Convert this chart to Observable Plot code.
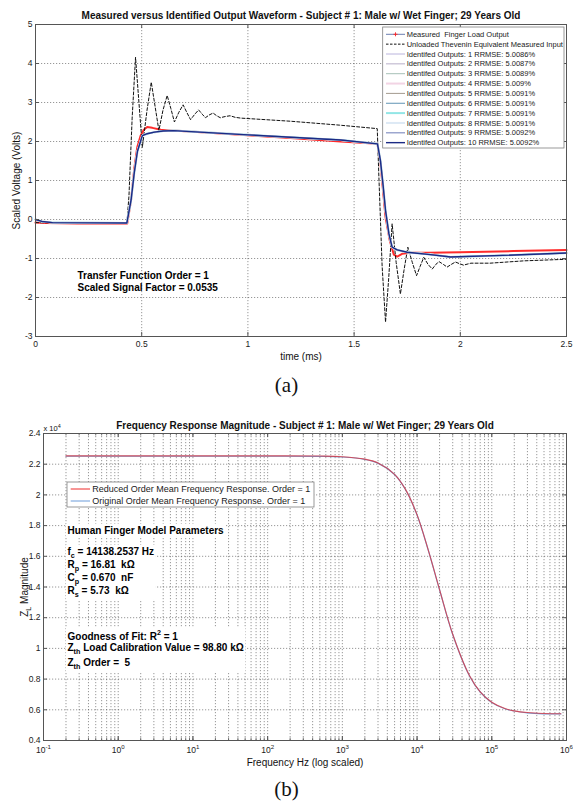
<!DOCTYPE html>
<html>
<head>
<meta charset="utf-8">
<script src="https://cdn.jsdelivr.net/npm/d3@7"></script>
<script src="https://cdn.jsdelivr.net/npm/@observablehq/plot@0.6"></script>
<style>
  body { margin: 0; background: white; }
  #wrap { position: relative; width: 573px; height: 804px; background: white; overflow: hidden; }
  .panel { position: absolute; left: 0; }
  .cap { position: absolute; left: 0; width: 573px; text-align: center; font-family: 'Liberation Serif', 'Times New Roman', serif; font-size: 21px; line-height: 24px; color: #111; }
</style>
</head>
<body>
<div id="wrap">
  <div id="pa" class="panel" style="top:0px"></div>
  <div class="cap" style="top:373px">(a)</div>
  <div id="pb" class="panel" style="top:405px"></div>
  <div class="cap" style="top:777px">(b)</div>
</div>
<script>
// ---------------- DATA: panel (a) ----------------
const topTitle = "Measured versus Identified Output Waveform - Subject # 1: Male w/ Wet Finger; 29 Years Old";
const timeTicks = [0, 0.5, 1, 1.5, 2, 2.5];
const timeTickLabels = ["0", "0.5", "1", "1.5", "2", "2.5"];
const voltTicks = [-3, -2, -1, 0, 1, 2, 3, 4, 5];
const voltTickLabels = ["-3", "-2", "-1", "0", "1", "2", "3", "4", "5"];

// Measured finger load output (red)
const measuredT = [0, 0.05, 0.2, 0.432, 0.45, 0.465, 0.479, 0.495, 0.51, 0.526, 0.55, 0.59, 0.8, 1.0, 1.2, 1.436, 1.61, 1.624, 1.636, 1.648, 1.668, 1.687, 1.703, 1.726, 1.765, 1.85, 2.0, 2.25, 2.5];
const measuredV = [-0.08, -0.09, -0.1, -0.1, 0.5, 1.3, 1.85, 2.15, 2.3, 2.37, 2.35, 2.3, 2.23, 2.16, 2.09, 2.0, 1.94, 1.45, 0.75, 0.06, -0.54, -0.9, -0.95, -0.88, -0.85, -0.85, -0.84, -0.81, -0.78];

// Unloaded Thevenin equivalent measured input (black dashed)
const theveninT = [0, 0.43, 0.44, 0.455, 0.471, 0.487, 0.503, 0.525, 0.545, 0.563, 0.581, 0.6, 0.62, 0.637, 0.654, 0.675, 0.695, 0.712, 0.73, 0.75, 0.768, 0.785, 0.8, 0.818, 0.836, 0.853, 0.87, 0.893, 0.916, 0.94, 0.966, 1.2, 1.43, 1.609, 1.616, 1.632, 1.648, 1.663, 1.679, 1.698, 1.718, 1.735, 1.753, 1.774, 1.794, 1.811, 1.828, 1.848, 1.868, 1.885, 1.9, 1.92, 1.938, 1.958, 1.977, 1.995, 2.015, 2.05, 2.14, 2.3, 2.5];
const theveninV = [-0.08, -0.1, 0.6, 2.6, 4.16, 3.0, 1.85, 2.8, 3.52, 2.9, 2.28, 2.8, 3.18, 2.85, 2.5, 2.75, 2.94, 2.75, 2.56, 2.7, 2.81, 2.7, 2.61, 2.68, 2.73, 2.66, 2.61, 2.64, 2.66, 2.62, 2.6, 2.52, 2.42, 2.33, 1.2, -1.2, -2.63, -1.5, -0.11, -1.1, -1.91, -1.3, -0.71, -1.1, -1.44, -1.2, -0.97, -1.15, -1.27, -1.15, -1.08, -1.15, -1.22, -1.15, -1.09, -1.13, -1.17, -1.12, -1.12, -1.06, -1.02];

// Identified outputs (all ten overlap almost exactly)
const identifiedT = [0, 0.03, 0.08, 0.43, 0.45, 0.465, 0.48, 0.503, 0.526, 0.56, 0.6, 0.65, 1.0, 1.436, 1.61, 1.624, 1.636, 1.648, 1.664, 1.679, 1.703, 1.75, 1.86, 1.954, 2.2, 2.5];
const identifiedV = [0.0, -0.05, -0.08, -0.09, 0.5, 1.2, 1.75, 2.15, 2.2, 2.24, 2.27, 2.28, 2.17, 2.04, 1.94, 1.51, 0.9, 0.23, -0.37, -0.71, -0.78, -0.84, -0.9, -0.96, -0.92, -0.86];
const identifiedRRMSE = [5.0086, 5.0087, 5.0089, 5.009, 5.0091, 5.0091, 5.0091, 5.0091, 5.0092, 5.0092];
const identifiedColors = ["#bab4dd", "#b8aec9", "#a7c0b7", "#f2d4e4", "#a49b8e", "#6094b4", "#92e6e6", "#dde9f5", "#8592c4", "#1c2b85"];
const identifiedWidths = [1, 1, 1, 2, 1, 1, 2, 2, 1.2, 1.4];
const topNotes = ["Transfer Function Order = 1", "Scaled Signal Factor = 0.0535"];

// ---------------- DATA: panel (b) ----------------
const botTitle = "Frequency Response Magnitude - Subject # 1: Male w/ Wet Finger; 29 Years Old";
const freqHz =    [0.2, 1, 10, 100, 500, 1000, 2000, 3000, 5000, 7000, 10000, 14000, 20000, 30000, 50000, 70000, 100000, 150000, 200000, 300000, 500000, 840000];
const reducedZ =  [2.254, 2.254, 2.254, 2.254, 2.253, 2.249, 2.233, 2.208, 2.134, 2.036, 1.870, 1.647, 1.383, 1.092, 0.825, 0.717, 0.649, 0.608, 0.593, 0.582, 0.576, 0.574];
const originalZ = [2.252, 2.252, 2.252, 2.252, 2.251, 2.247, 2.232, 2.207, 2.133, 2.035, 1.869, 1.646, 1.382, 1.091, 0.824, 0.716, 0.648, 0.607, 0.592, 0.580, 0.574, 0.573];
const decadeTicks = [0.1, 1, 10, 100, 1000, 10000, 100000, 1000000];
const decadeLabels = ["10^{-1}", "10^{0}", "10^{1}", "10^{2}", "10^{3}", "10^{4}", "10^{5}", "10^{6}"];
const zTicks = [0.4, 0.6, 0.8, 1.0, 1.2, 1.4, 1.6, 1.8, 2.0, 2.2, 2.4];
const zTickLabels = ["0.4", "0.6", "0.8", "1", "1.2", "1.4", "1.6", "1.8", "2", "2.2", "2.4"];
const botLegend = ["Reduced Order Mean Frequency Response. Order = 1", "Original Order Mean Frequency Response. Order = 1"];
const paramHeader = "Human Finger Model Parameters";
const paramLines = ["f_{c} = 14138.2537 Hz", "R_{p} = 16.81  k\u03A9", "C_{p} = 0.670  nF", "R_{s} = 5.73  k\u03A9"];
const fitLines = ["Goodness of Fit: R^{2} = 1", "Z_{th} Load Calibration Value = 98.80 k\u03A9", "Z_{th} Order =  5"];

// ---------------- helpers ----------------
const FONT = "'Liberation Sans', Arial, Helvetica, sans-serif";
const GRID = {stroke: "#3a3a3a", strokeOpacity: 0.75, strokeWidth: 0.7, strokeDasharray: "1.2,1.8"};
const AX = "#555";
const zip = (T, V) => T.map((t, i) => ({t, v: V[i]}));
const measured = zip(measuredT, measuredV);
const thevenin = zip(theveninT, theveninV);
const identified = zip(identifiedT, identifiedV);
const freqTable = freqHz.map((f, i) => ({f, red: reducedZ[i], blue: originalZ[i]}));
const minorFreq = [];
for (let k = -1; k <= 5; k++) for (let m = 1; m <= 9; m++) minorFreq.push(m * Math.pow(10, k));
minorFreq.push(1e6);

// ---------------- panel (a) ----------------
const A = {w: 573, h: 365, ml: 35, mr: 7, mt: 24, mb: 29};
const AW = A.w - A.ml - A.mr, AH = A.h - A.mt - A.mb;
const plotA = Plot.plot({
  width: A.w, height: A.h, marginLeft: A.ml, marginRight: A.mr, marginTop: A.mt, marginBottom: A.mb,
  style: {fontFamily: FONT, fontSize: "8.5px", color: "#1a1a1a", background: "white"},
  x: {domain: [0, 2.5]},
  y: {domain: [-3, 5]},
  marks: [
    Plot.ruleX(timeTicks.slice(1, -1), {x: d => d, ...GRID}),
    Plot.ruleY(voltTicks.slice(1, -1), {y: d => d, ...GRID}),
    Plot.line(measured, {x: "t", y: "v", stroke: "#ff2b2b", strokeWidth: 2}),
    Plot.line(thevenin, {x: "t", y: "v", stroke: "#111", strokeWidth: 1, strokeDasharray: "3,2"}),
    ...identifiedColors.map((c, i) => Plot.line(identified, {x: "t", y: "v", stroke: c, strokeWidth: identifiedWidths[i]})),
    Plot.frame({stroke: AX}),
    Plot.tickX(timeTicks, {x: d => d, insetTop: AH - 4, stroke: AX}),
    Plot.tickX(timeTicks, {x: d => d, insetBottom: AH - 4, stroke: AX}),
    Plot.tickY(voltTicks, {y: d => d, insetRight: AW - 4, stroke: AX}),
    Plot.tickY(voltTicks, {y: d => d, insetLeft: AW - 4, stroke: AX}),
    Plot.axisX({ticks: timeTicks, tickFormat: d => timeTickLabels[timeTicks.indexOf(d)], tickSize: 0, tickPadding: 4, label: null, fontSize: 8.5}),
    Plot.axisY({ticks: voltTicks, tickFormat: d => voltTickLabels[voltTicks.indexOf(d)], tickSize: 0, tickPadding: 3, label: null, fontSize: 8.5}),
    Plot.text([topTitle], {text: d => d, frameAnchor: "top", lineAnchor: "top", dy: -13, fontSize: 10, fontWeight: "bold", fill: "#111"}),
    Plot.text(["time (ms)"], {text: d => d, frameAnchor: "bottom", lineAnchor: "top", dy: 16, fontSize: 10, fill: "#111"}),
    Plot.text(["Scaled Voltage (Volts)"], {text: d => d, frameAnchor: "left", rotate: -90, textAnchor: "middle", lineAnchor: "top", dx: -23, fontSize: 10, fill: "#111"}),
    ...topNotes.map((s, i) => Plot.text([s], {text: d => d, frameAnchor: "top-left", textAnchor: "start", lineAnchor: "top", dx: 42, dy: 247 + i * 12.6, fontSize: 10, fontWeight: "bold", fill: "#000"}))
  ]
});
document.getElementById("pa").appendChild(plotA);

// ---------------- panel (b) ----------------
const B = {w: 573, h: 365, ml: 43, mr: 7, mt: 28, mb: 30};
const BW = B.w - B.ml - B.mr, BH = B.h - B.mt - B.mb;
const noteLine = (s, dy, code) => Plot.text([s], {text: d => d, frameAnchor: "top-left", textAnchor: "start", lineAnchor: "top", dx: 24, dy, fontSize: 10, fontWeight: "bold", fill: code});
const plotB = Plot.plot({
  width: B.w, height: B.h, marginLeft: B.ml, marginRight: B.mr, marginTop: B.mt, marginBottom: B.mb,
  style: {fontFamily: FONT, fontSize: "8.5px", color: "#1a1a1a", background: "white"},
  x: {type: "log", domain: [0.1, 1e6]},
  y: {domain: [0.4, 2.4]},
  marks: [
    Plot.ruleX(minorFreq.filter(f => f > 0.1 && f < 1e6), {x: d => d, ...GRID}),
    Plot.ruleY(zTicks.slice(1, -1), {y: d => d, ...GRID}),
    Plot.line(freqTable, {x: "f", y: "blue", stroke: "#6b9bd9", strokeWidth: 1.2, curve: "catmull-rom"}),
    Plot.line(freqTable, {x: "f", y: "red", stroke: "#ee2a2a", strokeWidth: 1.1, strokeOpacity: 0.7, curve: "catmull-rom"}),
    Plot.frame({stroke: AX}),
    Plot.tickX(decadeTicks, {x: d => d, insetTop: BH - 4, stroke: AX}),
    Plot.tickX(decadeTicks, {x: d => d, insetBottom: BH - 4, stroke: AX}),
    Plot.tickX(minorFreq, {x: d => d, insetTop: BH - 2.5, stroke: AX, strokeWidth: 0.8}),
    Plot.tickX(minorFreq, {x: d => d, insetBottom: BH - 2.5, stroke: AX, strokeWidth: 0.8}),
    Plot.tickY(zTicks, {y: d => d, insetRight: BW - 4, stroke: AX}),
    Plot.tickY(zTicks, {y: d => d, insetLeft: BW - 4, stroke: AX}),
    Plot.axisX({ticks: decadeTicks, tickFormat: d => decadeLabels[decadeTicks.indexOf(d)], tickSize: 0, tickPadding: 6, label: null, fontSize: 8.5}),
    Plot.axisY({ticks: zTicks, tickFormat: d => zTickLabels[zTicks.indexOf(d)], tickSize: 0, tickPadding: 3, label: null, fontSize: 8.5}),
    Plot.text(["x 10^{4}"], {text: d => d, frameAnchor: "top-left", textAnchor: "start", lineAnchor: "top", dx: 0, dy: -8, fontSize: 7.5, fill: "#111"}),
    Plot.text([botTitle], {text: d => d, frameAnchor: "top", lineAnchor: "top", dy: -12, fontSize: 10, fontWeight: "bold", fill: "#111"}),
    Plot.text(["Frequency Hz (log scaled)"], {text: d => d, frameAnchor: "bottom", lineAnchor: "top", dy: 18, fontSize: 10, fill: "#111"}),
    Plot.text(["Z_{L} Magnitude"], {text: d => d, frameAnchor: "left", rotate: -90, textAnchor: "middle", lineAnchor: "top", dx: -23, fontSize: 10, fill: "#111"}),
    noteLine(paramHeader, 93, "#000001"),
    ...paramLines.map((s, i) => noteLine(s, [114, 127, 140, 153][i], "#000002")),
    ...fitLines.map((s, i) => noteLine(s, [199, 210, 225][i], "#000003"))
  ]
});
document.getElementById("pb").appendChild(plotB);

// ---------------- rich text (sub/superscripts) ----------------
const NS = "http://www.w3.org/2000/svg";
function richText(svg) {
  svg.querySelectorAll("text").forEach(t => {
    const targets = t.querySelector("tspan") ? [...t.querySelectorAll("tspan")] : [t];
    targets.forEach(el => {
      const s = el.textContent;
      if (!/[_^]\{/.test(s)) return;
      const fs = parseFloat(getComputedStyle(el).fontSize) || 10;
      while (el.firstChild) el.removeChild(el.firstChild);
      let shift = 0;
      const add = (str, type) => {
        const ts = document.createElementNS(NS, "tspan");
        const target = type === "_" ? 0.33 * fs : type === "^" ? -0.42 * fs : 0;
        const dy = target - shift;
        if (dy) ts.setAttribute("dy", dy.toFixed(2));
        shift = target;
        if (type) ts.setAttribute("font-size", (0.72 * fs).toFixed(2));
        ts.textContent = str;
        el.appendChild(ts);
      };
      const re = /([_^])\{([^}]*)\}/g;
      let last = 0, m;
      while ((m = re.exec(s))) {
        if (m.index > last) add(s.slice(last, m.index), null);
        add(m[2], m[1]);
        last = re.lastIndex;
      }
      if (last < s.length) add(s.slice(last), null);
    });
  });
}
richText(plotA);
richText(plotB);

// white background boxes behind text blocks (like MATLAB text objects)
function textBoxes(svg, codes) {
  const sr = svg.getBoundingClientRect();
  codes.forEach(code => {
    const groups = [...svg.querySelectorAll(`g[fill="${code}"]`)];
    if (!groups.length) return;
    let x0 = Infinity, y0 = Infinity, x1 = -Infinity, y1 = -Infinity;
    groups.forEach(g => g.querySelectorAll("text").forEach(t => {
      const r = t.getBoundingClientRect();
      x0 = Math.min(x0, r.left - sr.left); y0 = Math.min(y0, r.top - sr.top);
      x1 = Math.max(x1, r.right - sr.left); y1 = Math.max(y1, r.bottom - sr.top);
    }));
    const rect = document.createElementNS(NS, "rect");
    rect.setAttribute("x", x0 - 1.5); rect.setAttribute("y", y0 - 1);
    rect.setAttribute("width", x1 - x0 + 3); rect.setAttribute("height", y1 - y0 + 2);
    rect.setAttribute("fill", "white");
    groups[0].parentNode.insertBefore(rect, groups[0]);
  });
}
textBoxes(plotB, ["#000001", "#000002", "#000003"]);

// ---------------- legends ----------------
function legend(svg, cfg) {
  const g = d3.select(svg).append("g").attr("font-family", FONT).attr("font-size", cfg.fontSize)
    .attr("fill", "#1a1a1a").attr("text-anchor", "start");
  g.append("rect").attr("x", cfg.x).attr("y", cfg.y).attr("width", cfg.w).attr("height", cfg.h)
    .attr("fill", "white").attr("stroke", "#808080").attr("stroke-width", 0.8);
  cfg.items.forEach((it, i) => {
    const cy = cfg.row0 + i * cfg.dy;
    g.append("line").attr("x1", cfg.lx1).attr("x2", cfg.lx2).attr("y1", cy).attr("y2", cy)
      .attr("stroke", it.color).attr("stroke-width", it.width).attr("stroke-dasharray", it.dash || null);
    if (it.marker) {
      const mx = (cfg.lx1 + cfg.lx2) / 2;
      g.append("path").attr("d", `M${mx - 2},${cy}h4M${mx},${cy - 2}v4`).attr("stroke", it.marker).attr("stroke-width", 0.9);
    }
    g.append("text").attr("x", cfg.tx).attr("y", cy).attr("dy", "0.35em").attr("text-anchor", "start").text(it.label);
  });
}
legend(plotA, {
  x: 382.7, y: 27, w: 181.3, h: 121, row0: 34.3, dy: 9.85, lx1: 386, lx2: 405, tx: 406.7, fontSize: 7.5,
  items: [
    {label: "Measured  Finger Load Output", color: "#5a6ea8", width: 0.9, marker: "#ff2020"},
    {label: "Unloaded Thevenin Equivalent Measured Input", color: "#111", width: 1, dash: "2.5,1.5"},
    ...identifiedRRMSE.map((v, i) => ({label: `Identifed Outputs: ${i + 1} RRMSE: ${v}%`, color: identifiedColors[i], width: identifiedWidths[i]}))
  ]
});
legend(plotB, {
  x: 67, y: 77, w: 247, h: 25, row0: 84, dy: 12, lx1: 70.7, lx2: 90, tx: 92.3, fontSize: 9,
  items: [
    {label: botLegend[0], color: "#ee2a2a", width: 1},
    {label: botLegend[1], color: "#6b9bd9", width: 1}
  ]
});
</script>
</body>
</html>
